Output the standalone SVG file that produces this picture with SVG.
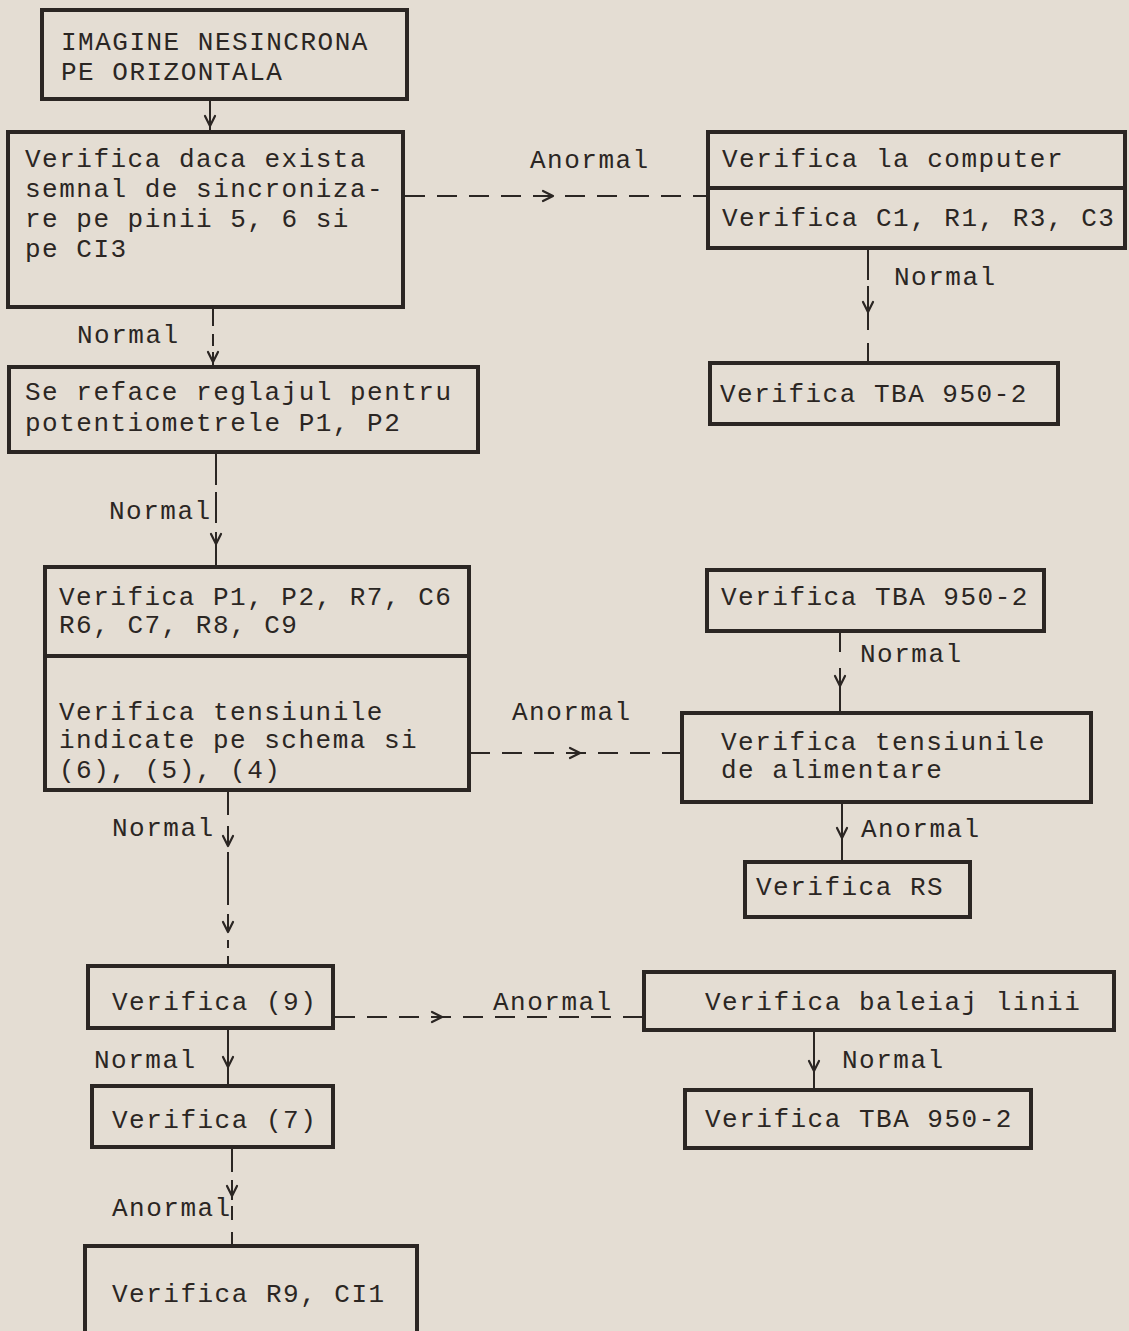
<svg xmlns="http://www.w3.org/2000/svg" xmlns:xlink="http://www.w3.org/1999/xlink" width="1129" height="1331" viewBox="0 0 1129 1331">
<style>
.bx{fill:none;stroke:#2b2623;stroke-width:4}
.t{font-family:"Liberation Mono","DejaVu Sans Mono",monospace;font-size:26px;letter-spacing:1.5px;fill:#2b2623}
.c{stroke:#2b2623;stroke-width:2;fill:none}
.dh{stroke-dasharray:20 12}
.ah{stroke:#2b2623;stroke-width:2.2;fill:none;stroke-linecap:round;stroke-linejoin:round}
</style>
<defs>
<path id="ad" class="ah" d="M-5,-10 L0,0 L5,-10"/>
<path id="ar" class="ah" d="M-10,-5 L0,0 L-10,5"/>
</defs>
<rect width="1129" height="1331" fill="#e4ddd3"/>

<g id="connectors">
<line class="c" x1="210" y1="99" x2="210" y2="132"/>
<use xlink:href="#ad" x="210" y="126"/>
<line class="c dh" x1="405" y1="196" x2="708" y2="196"/>
<use xlink:href="#ar" x="553" y="196"/>
<line class="c" x1="868" y1="250" x2="868" y2="280"/>
<line class="c" x1="868" y1="286" x2="868" y2="330"/>
<line class="c" x1="868" y1="343" x2="868" y2="363"/>
<use xlink:href="#ad" x="868" y="312"/>
<line class="c" x1="213" y1="309" x2="213" y2="326"/>
<line class="c" x1="213" y1="334" x2="213" y2="346"/>
<line class="c" x1="213" y1="352" x2="213" y2="367"/>
<use xlink:href="#ad" x="213" y="362"/>
<line class="c" x1="216" y1="452" x2="216" y2="485"/>
<line class="c" x1="216" y1="492" x2="216" y2="523"/>
<line class="c" x1="216" y1="532" x2="216" y2="567"/>
<use xlink:href="#ad" x="216" y="544"/>
<line class="c dh" x1="470" y1="753" x2="682" y2="753"/>
<use xlink:href="#ar" x="580" y="753"/>
<line class="c" x1="840" y1="633" x2="840" y2="652"/>
<line class="c" x1="840" y1="668" x2="840" y2="713"/>
<use xlink:href="#ad" x="840" y="686"/>
<line class="c" x1="842" y1="802" x2="842" y2="862"/>
<use xlink:href="#ad" x="842" y="838"/>
<line class="c" x1="228" y1="791" x2="228" y2="815"/>
<line class="c" x1="228" y1="826" x2="228" y2="845"/>
<use xlink:href="#ad" x="228" y="846"/>
<line class="c" x1="228" y1="852" x2="228" y2="905"/>
<line class="c" x1="228" y1="914" x2="228" y2="931"/>
<use xlink:href="#ad" x="228" y="932"/>
<line class="c" x1="228" y1="940" x2="228" y2="948"/>
<line class="c" x1="228" y1="956" x2="228" y2="966"/>
<line class="c dh" x1="335" y1="1017" x2="644" y2="1017"/>
<use xlink:href="#ar" x="442" y="1017"/>
<line class="c" x1="228" y1="1028" x2="228" y2="1086"/>
<use xlink:href="#ad" x="228" y="1067"/>
<line class="c" x1="814" y1="1030" x2="814" y2="1090"/>
<use xlink:href="#ad" x="814" y="1071"/>
<line class="c" x1="232" y1="1147" x2="232" y2="1172"/>
<line class="c" x1="232" y1="1180" x2="232" y2="1200"/>
<use xlink:href="#ad" x="232" y="1196"/>
<line class="c" x1="232" y1="1206" x2="232" y2="1220"/>
<line class="c" x1="232" y1="1232" x2="232" y2="1246"/>
<text class="t" x="530" y="168">Anormal</text>
<text class="t" x="894" y="285">Normal</text>
<text class="t" x="77" y="343">Normal</text>
<text class="t" x="109" y="519">Normal</text>
<text class="t" x="512" y="720">Anormal</text>
<text class="t" x="860" y="662">Normal</text>
<text class="t" x="861" y="837">Anormal</text>
<text class="t" x="112" y="836">Normal</text>
<text class="t" x="493" y="1010">Anormal</text>
<text class="t" x="94" y="1068">Normal</text>
<text class="t" x="842" y="1068">Normal</text>
<text class="t" x="112" y="1216">Anormal</text>
</g>

<g id="n1">
<rect class="bx" x="42" y="10" width="365" height="89"/>
<text class="t" x="61" y="50">IMAGINE NESINCRONA</text>
<text class="t" x="61" y="80">PE ORIZONTALA</text>
</g>
<g id="n2">
<rect class="bx" x="8" y="132" width="395" height="175"/>
<text class="t" x="25" y="167">Verifica daca exista</text>
<text class="t" x="25" y="197">semnal de sincroniza-</text>
<text class="t" x="25" y="227">re pe pinii 5, 6  si</text>
<text class="t" x="25" y="257">pe CI3</text>
</g>
<g id="n3">
<rect class="bx" x="708" y="132" width="417" height="116"/>
<line class="bx" x1="708" y1="188" x2="1125" y2="188"/>
<text class="t" x="722" y="167">Verifica la computer</text>
<text class="t" x="722" y="226">Verifica C1, R1, R3, C3</text>
</g>
<g id="n4">
<rect class="bx" x="710" y="363" width="348" height="61"/>
<text class="t" x="720" y="402">Verifica TBA 950-2</text>
</g>
<g id="n5">
<rect class="bx" x="9" y="367" width="469" height="85"/>
<text class="t" x="25" y="400">Se reface reglajul pentru</text>
<text class="t" x="25" y="431">potentiometrele P1, P2</text>
</g>
<g id="n6">
<rect class="bx" x="45" y="567" width="424" height="223"/>
<line class="bx" x1="45" y1="656" x2="469" y2="656"/>
<text class="t" x="59" y="605">Verifica P1, P2, R7, C6</text>
<text class="t" x="59" y="633">R6, C7, R8, C9</text>
<text class="t" x="59" y="720">Verifica tensiunile</text>
<text class="t" x="59" y="748">indicate pe schema si</text>
<text class="t" x="59" y="778">(6), (5), (4)</text>
</g>
<g id="n7">
<rect class="bx" x="707" y="570" width="337" height="61"/>
<text class="t" x="721" y="605">Verifica TBA 950-2</text>
</g>
<g id="n8">
<rect class="bx" x="682" y="713" width="409" height="89"/>
<text class="t" x="721" y="750">Verifica tensiunile</text>
<text class="t" x="721" y="778">de alimentare</text>
</g>
<g id="n9">
<rect class="bx" x="745" y="862" width="225" height="55"/>
<text class="t" x="756" y="895">Verifica RS</text>
</g>
<g id="n10">
<rect class="bx" x="88" y="966" width="245" height="62"/>
<text class="t" x="112" y="1010">Verifica (9)</text>
</g>
<g id="n11">
<rect class="bx" x="644" y="972" width="470" height="58"/>
<text class="t" x="705" y="1010">Verifica baleiaj linii</text>
</g>
<g id="n12">
<rect class="bx" x="92" y="1086" width="241" height="61"/>
<text class="t" x="112" y="1128">Verifica (7)</text>
</g>
<g id="n13">
<rect class="bx" x="685" y="1090" width="346" height="58"/>
<text class="t" x="705" y="1127">Verifica TBA 950-2</text>
</g>
<g id="n14">
<path class="bx" d="M85,1340 V1246 H417 V1340"/>
<text class="t" x="112" y="1302">Verifica R9, CI1</text>
</g>
</svg>
